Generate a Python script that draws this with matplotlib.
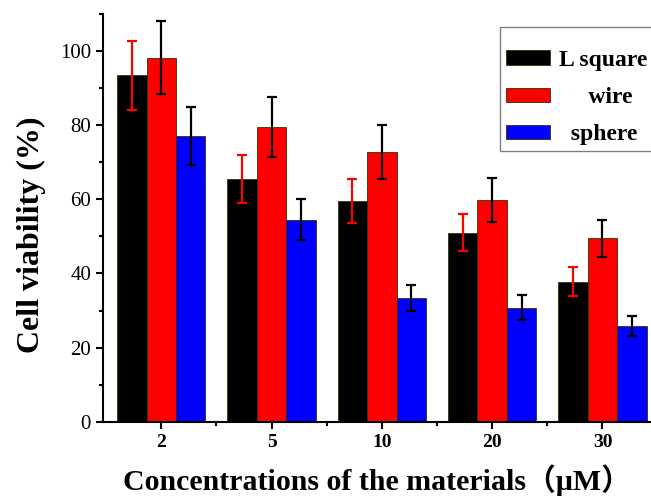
import matplotlib.pyplot as plt
import numpy as np
from matplotlib.ticker import MultipleLocator

# concentrações e viabilidade celular (%)
conc = ["2", "5", "10", "20", "30"]
series = ["L square", "wire", "sphere"]
lsquare = [93.4, 65.5, 59.5, 51.0, 37.8]
lsquare_err = [9.3, 6.5, 6.0, 5.0, 3.9]
wire = [98.2, 79.5, 72.8, 59.8, 49.5]
wire_err = [9.9, 8.0, 7.3, 6.0, 5.0]
sphere = [77.0, 54.5, 33.4, 30.8, 25.9]
sphere_err = [7.8, 5.5, 3.5, 3.3, 2.7]

valores = [lsquare, wire, sphere]
erros = [lsquare_err, wire_err, sphere_err]
cores = ["#000000", "#ff0000", "#0000ff"]
cores_erro = ["#ff0000", "#000000", "#000000"]
rotulos = ["L square", "     wire", "  sphere"]

fig = plt.figure(figsize=(6.51, 4.98), dpi=100)
ax = fig.add_axes([0.158, 0.153, 0.842, 0.819])

x = np.arange(len(conc))
w = 0.8 / 3
for i in range(3):
    ax.bar(x + (i - 1) * w, valores[i], w, color=cores[i], edgecolor="#333300",
           linewidth=0.6, label=rotulos[i], zorder=2)
    ax.errorbar(x + (i - 1) * w, valores[i], yerr=erros[i], fmt="none",
                ecolor=cores_erro[i], elinewidth=1.6, capsize=3.6,
                capthick=1.6, zorder=3)

ax.set_xlim(-0.53, 4.44)
ax.set_ylim(0, 110)
ax.set_xticks(x)
ax.set_xticklabels(conc, fontsize=14, fontweight="bold", family="Liberation Serif")
ax.set_xticks(x[:-1] + 0.5, minor=True)
ax.yaxis.set_major_locator(MultipleLocator(20))
ax.yaxis.set_minor_locator(MultipleLocator(10))
for lab in ax.get_yticklabels():
    lab.set_family("Liberation Serif")

ax.tick_params(which="major", direction="out", length=5, width=1.5)
ax.tick_params(which="minor", direction="out", length=3, width=1.5)
ax.tick_params(axis="y", which="major", labelsize=15)
for s in ["top", "right"]:
    ax.spines[s].set_visible(False)
for s in ["left", "bottom"]:
    ax.spines[s].set_linewidth(1.5)

ax.set_ylabel("Cell viability (%)", fontsize=23, fontweight="bold",
              family="Liberation Serif", labelpad=10, y=0.459)
ax.set_xlabel("Concentrations of the materials（μM）", fontsize=21.5,
              fontweight="bold", family=["Liberation Serif", "Noto Sans CJK SC"],
              labelpad=10)

leg = ax.legend(loc="upper left", bbox_to_anchor=(0.724, 0.968), borderaxespad=0,
                fancybox=False, edgecolor="#808080", framealpha=1,
                prop={"family": "Liberation Serif", "weight": "bold", "size": 17},
                title=" ", title_fontsize=1,
                handlelength=1.9, handleheight=0.55, labelspacing=0.68,
                handletextpad=0.35, borderpad=0.25)
leg.get_frame().set_linewidth(1.0)

plt.savefig("out.png", dpi=100)
